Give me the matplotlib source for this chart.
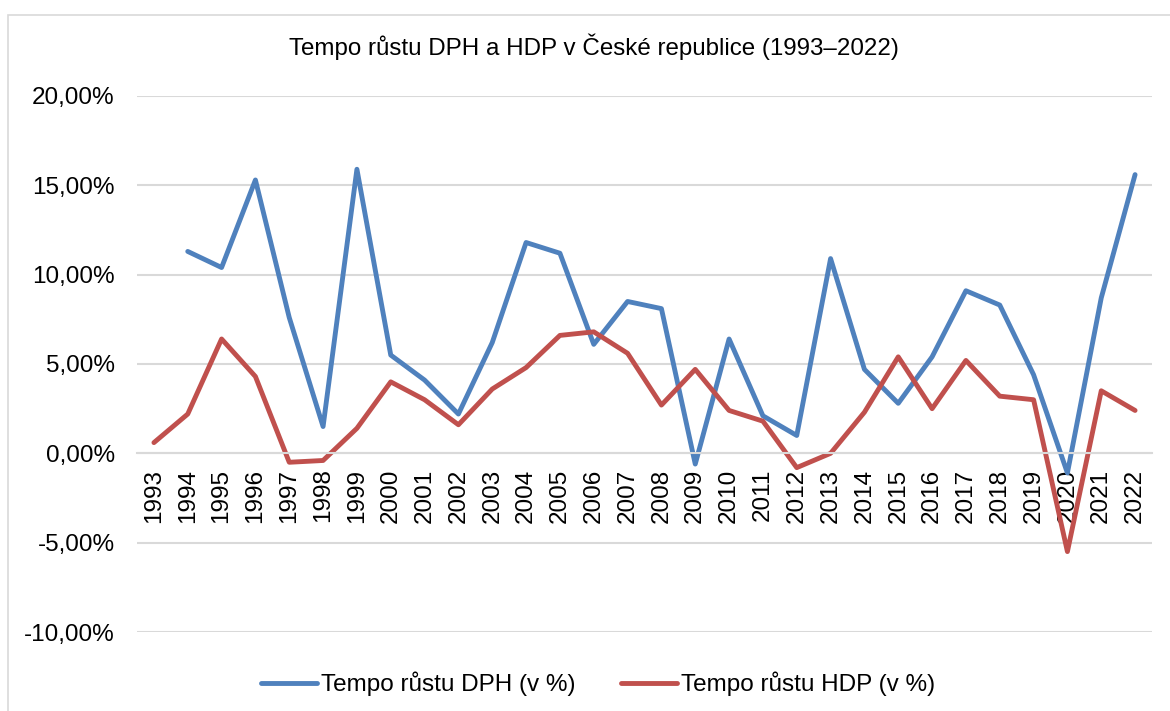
import numpy as np
import matplotlib.pyplot as plt
from matplotlib.patches import Rectangle
from matplotlib.ticker import FuncFormatter

plt.rcParams['font.family'] = ['Liberation Sans', 'DejaVu Sans']

# data (growth rates in %)
years = list(range(1993, 2023))
dph = [np.nan, 11.3, 10.4, 15.3, 7.6, 1.5, 15.9, 5.5, 4.1, 2.2,
       6.2, 11.8, 11.2, 6.1, 8.5, 8.1, -0.6, 6.4, 2.1, 1.0,
       10.9, 4.7, 2.8, 5.4, 9.1, 8.3, 4.4, -1.1, 8.7, 15.6]
hdp = [0.6, 2.2, 6.4, 4.3, -0.5, -0.4, 1.4, 4.0, 3.0, 1.6,
       3.6, 4.8, 6.6, 6.8, 5.6, 2.7, 4.7, 2.4, 1.8, -0.8,
       0.0, 2.3, 5.4, 2.5, 5.2, 3.2, 3.0, -5.5, 3.5, 2.4]
series_names = ['Tempo růstu DPH (v %)', 'Tempo růstu HDP (v %)']
title = 'Tempo růstu DPH a HDP v České republice (1993–2022)'

blue = '#4F81BD'
red = '#C0504D'
grid_c = '#d9d9d9'

W, H = 1170, 711
fig = plt.figure(figsize=(W / 100, H / 100), dpi=100)

# chart border (Excel chart area)
fig.patches.append(Rectangle((8 / W, -0.1), 1.2, 1 - 14.5 / H + 0.1,
                             transform=fig.transFigure, fill=False,
                             edgecolor=grid_c, lw=1.2))

ax = fig.add_axes([137 / W, 1 - 632 / H, (1152 - 137) / W, (632 - 96) / H])

# x axis crosses at 0 like in Excel
for s in ['top', 'right', 'left']:
    ax.spines[s].set_visible(False)
ax.spines['bottom'].set_position(('data', 0))
ax.spines['bottom'].set_color(grid_c)
ax.spines['bottom'].set_linewidth(1.5)

x = np.arange(len(years))
ax.plot(x, dph, color=blue, lw=3.5, solid_joinstyle='round', solid_capstyle='round',
        label=series_names[0])
ax.plot(x, hdp, color=red, lw=3.5, solid_joinstyle='round', solid_capstyle='round',
        label=series_names[1])

ax.set_xlim(-0.5, len(years) - 0.5)
ax.set_ylim(-10, 20)
ax.set_yticks(np.arange(-10, 21, 5))
ax.yaxis.set_major_formatter(FuncFormatter(lambda v, p: f'{v:.2f}%'.replace('.', ',')))
ax.grid(axis='y', color=grid_c, lw=1.5)
ax.set_axisbelow(True)

ax.set_xticks(x)
ax.set_xticklabels([str(y) for y in years])
ax.tick_params(axis='x', length=0, pad=11, labelsize=17.5, labelrotation=90)
ax.tick_params(axis='y', length=0, pad=16, labelsize=17.5)

fig.text(594 / W, 1 - 47 / H, title, ha='center', va='center', fontsize=17.4)

fig.legend(loc='center', bbox_to_anchor=(598 / W, 1 - 684 / H), ncol=2,
           frameon=False, fontsize=17.5, handlelength=2.3, handletextpad=0.15,
           columnspacing=1.9)

fig.savefig('out.png', dpi=100)
